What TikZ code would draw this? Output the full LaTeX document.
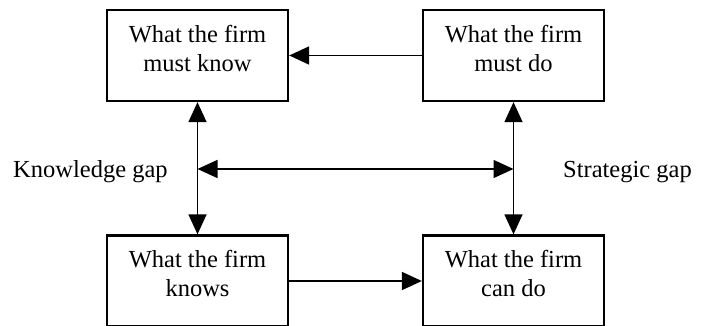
\documentclass[tikz,border=0pt]{standalone}
\usepackage{fontspec}
\setmainfont{Liberation Serif}
\usetikzlibrary{arrows.meta}
\begin{document}
\begin{tikzpicture}[x=1pt,y=-1pt,
  box/.style={draw,line width=2.3pt,minimum width=181pt,minimum height=91pt,inner sep=0pt},
  txt/.style={font=\fontsize{24.5}{29}\selectfont,align=center,inner sep=0pt,anchor=north},
  lbl/.style={font=\fontsize{24.5}{29}\selectfont,inner sep=0pt},
  conn/.style={line width=1.8pt,-{Triangle[length=20pt,width=18pt]}},
  dconn/.style={line width=1.4pt,{Triangle[length=20pt,width=18pt]}-{Triangle[length=20pt,width=18pt]}}]
\useasboundingbox (0,0) rectangle (710,326);
\clip (0,0) rectangle (710,326);
\node[box] (tl) at (197.5,55.5) {};
\node[box] (tr) at (513.5,55.5) {};
\node[box] (bl) at (197.5,281) {};
\node[box] (br) at (513.5,281) {};
\node[txt] (tlt) at ([yshift=-16pt]tl.north) {What the firm\\must know};
\node[txt] (trt) at ([yshift=-16pt]tr.north) {What the firm\\must do};
\node[txt] (blt) at ([yshift=-16pt]bl.north) {What the firm\\knows};
\node[txt] (brt) at ([yshift=-16pt]br.north) {What the firm\\can do};
\draw[conn] (tr.west) -- (tl.east);
\draw[conn] (bl.east) -- (br.west);
\draw[dconn] (tl.south) -- (bl.north);
\draw[dconn] (tr.south) -- (br.north);
\coordinate (ml) at (tl.south |- 0,169);
\coordinate (mr) at (tr.south |- 0,169);
\draw[dconn] (ml) -- (mr);
\node[lbl,anchor=base west] (kg) at (13,178) {Knowledge gap};
\node[lbl,anchor=base west] (sg) at (563,178) {Strategic gap};
\end{tikzpicture}
\end{document}
